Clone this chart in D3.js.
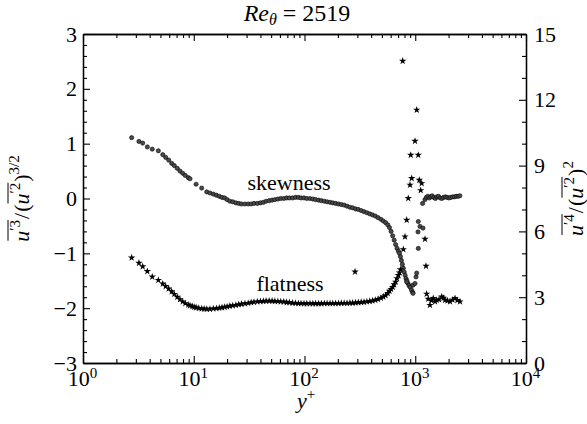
<!DOCTYPE html>
<html>
<head>
<meta charset="utf-8">
<script src="https://cdn.jsdelivr.net/npm/d3@7"></script>
<style>
body{margin:0;background:#fff;}
text{font-family:"Liberation Serif","DejaVu Serif",serif;}
</style>
</head>
<body>
<svg width="587" height="424"></svg>
<script>
// skewness  [y+, value]  (left axis)
const skewness = [
[2.75,1.11],[3.2,1.04],[3.46,1.01],[3.81,0.94],[4.22,0.90],[4.79,0.87],
[5.25,0.80],[5.58,0.75],[5.94,0.70],[6.32,0.64],[6.67,0.60],[7.10,0.55],[7.51,0.50],[7.95,0.46],[8.39,0.42],[8.93,0.38],[9.25,0.36],
[10.5,0.26],[11.8,0.19],[13.1,0.12],
[14,0.10],[15,0.08],[16,0.06],[17,0.04],[18,0.02],[19,0.01],[20,-0.02],[21.2,-0.05],[22.5,-0.06],[24,-0.08],[25.5,-0.09],[27,-0.10],
[29,-0.10],[31,-0.10],[33,-0.10],[35,-0.09],[37.5,-0.09],[40,-0.08],[42.5,-0.07],[45,-0.05],[48,-0.04],[51,-0.03],[54,-0.02],[57.5,-0.01],
[61,0.0],[65,0.0],[69,0.01],[73,0.01],[78,0.01],[83,0.02],[88,0.02],[93,0.01],[99,0.01],[105,0.0],[112,0.0],[119,-0.01],[126,-0.02],
[134,-0.03],[142,-0.04],[151,-0.05],[160,-0.06],[170,-0.07],[180,-0.08],[191,-0.09],[203,-0.10],[215,-0.11],[228,-0.12],[242,-0.14],
[257,-0.16],[272,-0.17],[289,-0.19],[306,-0.20],[325,-0.22],[345,-0.24],[366,-0.26],[388,-0.28],[411,-0.30],[436,-0.32],[462,-0.35],
[490,-0.38],[515,-0.41],[540,-0.44],[565,-0.48],[585,-0.53],[605,-0.60],[625,-0.68],[645,-0.76],[665,-0.84],[685,-0.91],[705,-0.96],
[720,-1.00],[735,-1.06],[750,-1.13],[765,-1.20],[780,-1.27],[795,-1.34],[810,-1.40],[825,-1.46],[840,-1.50],[860,-1.55],[880,-1.59],
[900,-1.62],[925,-1.67],[948,-1.71],
[837,-1.52],[955,-1.58],[955,-1.73],[995,-1.55],[1016,-1.43],[1031,-1.36],[1065,-0.91],[1059,-0.61],[1065,-0.42],[1104,-0.51],
[1175,-0.54],[1165,-0.09],
[1225,-0.02],[1260,0.02],[1300,0.04],[1340,0.01],[1380,0.03],[1420,0.05],[1470,0.02],[1520,0.0],[1570,0.03],[1620,0.04],[1680,0.01],
[1740,0.0],[1800,0.02],[1870,0.03],[1940,0.02],[2010,0.01],[2090,0.02],[2170,0.03],[2260,0.03],[2350,0.04],[2440,0.04],[2530,0.05]
];

// flatness  [y+, value]  (right axis)
const flatness = [
[2.75,4.80],[3.2,4.56],[3.46,4.40],[3.81,4.18],[4.22,3.93],[4.79,3.78],[5.25,3.61],[5.58,3.50],[5.94,3.39],[6.32,3.26],[6.67,3.14],
[7.10,3.01],[7.51,2.90],[7.95,2.80],[8.39,2.72],[8.93,2.65],[9.25,2.62],[9.7,2.58],[10.1,2.55],[10.5,2.53],[11.1,2.50],[11.8,2.48],
[12.4,2.47],[13.1,2.46],[14,2.46],[15,2.48],[16,2.49],[17,2.51],[18,2.53],[19,2.55],[20,2.57],[21.2,2.60],[22.5,2.62],[24,2.64],
[25.5,2.67],[27,2.69],[29,2.71],[31,2.73],[33,2.76],[35,2.78],[37.5,2.80],[40,2.81],[42.5,2.82],[45,2.83],[48,2.83],[51,2.83],
[54,2.82],[57.5,2.81],[61,2.80],[65,2.79],[69,2.77],[73,2.76],[78,2.74],[83,2.73],[88,2.72],[93,2.72],[99,2.71],[105,2.71],
[112,2.71],[119,2.71],[126,2.71],[134,2.71],[142,2.71],[151,2.72],[160,2.72],[170,2.72],[180,2.72],[191,2.72],[203,2.72],[215,2.73],
[228,2.73],[242,2.73],[257,2.74],[272,2.74],[289,2.75],[306,2.76],[325,2.77],[345,2.78],[366,2.80],[388,2.82],[411,2.84],[436,2.87],
[462,2.91],[490,2.96],[515,3.02],[540,3.08],[565,3.18],[585,3.28],[605,3.37],[625,3.46],[645,3.58],[665,3.70],[685,3.85],[705,4.00],
[720,4.12],[735,4.26],
[286,4.16],[770,13.77],[1031,11.54],[995,10.12],[910,9.48],[1065,9.48],[929,8.42],[1088,8.34],[897,8.12],[1143,8.19],[1120,7.87],
[865,7.51],[837,6.52],[808,5.76],[1225,5.65],[780,5.18],[1250,4.42],
[1268,3.15],[1310,2.92],[1358,2.64],[1400,2.85],[1455,2.95],[1510,2.80],[1563,2.87],[1640,2.90],[1734,3.02],[1800,2.96],[1857,2.87],
[1950,2.84],[2061,2.80],[2170,2.88],[2286,2.95],[2400,2.86],[2537,2.80]
];

const xTicks = [1,10,100,1000,10000];
const leftTicks = [-3,-2,-1,0,1,2,3];
const rightTicks = [0,3,6,9,12,15];
const reTheta = '2519';

const mLeft = 83, mRight = 526, mTop = 34, mBottom = 363;
const svg = d3.select('svg');

const x = d3.scaleLog().domain([1,1e4]).range([mLeft,mRight]);
const yL = d3.scaleLinear().domain([-3,3]).range([mBottom,mTop]);
const yR = d3.scaleLinear().domain([0,15]).range([mBottom,mTop]);

const xMinor = x.ticks().filter(d => xTicks.indexOf(d) < 0);
const leftMinor = yL.ticks(30).filter(d => Math.abs(d - Math.round(d)) > 1e-6);
const rightMinor = yR.ticks(15).filter(d => d % 3 !== 0);

function styleAxis(g){
  g.attr('font-family','Liberation Serif').attr('font-size',22);
  g.select('.domain').attr('stroke-width',1.3);
  g.selectAll('.tick line').attr('stroke-width',1.1);
  g.selectAll('.tick text').attr('fill','#000');
}

// bottom
svg.append('g').attr('transform',`translate(0,${mBottom})`)
  .call(d3.axisBottom(x).tickValues(xMinor).tickSize(-4).tickSizeOuter(0).tickFormat(''))
  .call(styleAxis);
const bx = svg.append('g').attr('transform',`translate(0,${mBottom})`)
  .call(d3.axisBottom(x).tickValues(xTicks).tickSize(-7).tickSizeOuter(0).tickPadding(7).tickFormat(''))
  .call(styleAxis);
bx.selectAll('.tick text').attr('dx',-1).each(function(d){
  const t = d3.select(this);
  t.append('tspan').text('10');
  t.append('tspan').attr('font-size',15).attr('dy',-8).text(Math.round(Math.log10(d)));
});

// top
svg.append('g').attr('transform',`translate(0,${mTop})`)
  .call(d3.axisTop(x).tickValues(xMinor).tickSize(-4).tickSizeOuter(0).tickFormat(''))
  .call(styleAxis);
svg.append('g').attr('transform',`translate(0,${mTop})`)
  .call(d3.axisTop(x).tickValues(xTicks).tickSize(-7).tickSizeOuter(0).tickFormat(''))
  .call(styleAxis);

// left
svg.append('g').attr('transform',`translate(${mLeft},0)`)
  .call(d3.axisLeft(yL).tickValues(leftMinor).tickSize(-4).tickSizeOuter(0).tickFormat(''))
  .call(styleAxis);
svg.append('g').attr('transform',`translate(${mLeft},0)`)
  .call(d3.axisLeft(yL).tickValues(leftTicks).tickSize(-7).tickSizeOuter(0).tickPadding(6).tickFormat(d3.format('d')))
  .call(styleAxis);

// right
svg.append('g').attr('transform',`translate(${mRight},0)`)
  .call(d3.axisRight(yR).tickValues(rightMinor).tickSize(-4).tickSizeOuter(0).tickFormat(''))
  .call(styleAxis);
svg.append('g').attr('transform',`translate(${mRight},0)`)
  .call(d3.axisRight(yR).tickValues(rightTicks).tickSize(-7).tickSizeOuter(0).tickPadding(8).tickFormat(d3.format('d')))
  .call(styleAxis);

// data
svg.append('g').selectAll('circle')
  .data(skewness)
  .join('circle')
  .attr('cx', d => x(d[0]))
  .attr('cy', d => yL(d[1]))
  .attr('r', 2.1)
  .attr('fill', '#4a4a4a')
  .attr('stroke', '#000')
  .attr('stroke-width', 0.6);

const star = d3.symbol(d3.symbolStar, 17);
svg.append('g').selectAll('path')
  .data(flatness)
  .join('path')
  .attr('d', star)
  .attr('transform', d => `translate(${x(d[0])},${yR(d[1])})`)
  .attr('fill', '#000');

// in-plot labels
svg.append('text').attr('x',289).attr('y',190).attr('text-anchor','middle')
  .attr('font-size',22).text('skewness');
svg.append('text').attr('x',290).attr('y',291).attr('text-anchor','middle')
  .attr('font-size',22).text('flatness');

// title
const ttl = svg.append('text').attr('x',297).attr('y',21).attr('text-anchor','middle').attr('font-size',24);
ttl.append('tspan').attr('font-style','italic').text('Re');
ttl.append('tspan').attr('font-style','italic').attr('font-size',16).attr('dy',4).text('θ');
ttl.append('tspan').attr('dy',-4).text(' = ' + reTheta);

// x label
const xl = svg.append('text').attr('x',306).attr('y',408).attr('text-anchor','middle').attr('font-size',22);
xl.append('tspan').attr('font-style','italic').text('y');
xl.append('tspan').attr('font-size',15).attr('dy',-9).text('+');

// axis labels with overlines, built piece by piece
function mathLabel(g, pieces, bars){
  const inner = g.append('g');
  let cx = 0;
  const spans = [];
  pieces.forEach(p => {
    const t = inner.append('text')
      .attr('x', cx).attr('y', p.dy || 0)
      .attr('font-size', p.size || 22)
      .attr('font-style', p.it ? 'italic' : null)
      .text(p.t);
    const w = t.node().getComputedTextLength();
    spans.push([cx, cx + w]);
    cx += w + (p.gap || 0);
  });
  bars.forEach(([a, b]) => {
    inner.append('line')
      .attr('x1', spans[a][0] + 1).attr('x2', spans[b][1])
      .attr('y1', -21).attr('y2', -21)
      .attr('stroke', '#000').attr('stroke-width', 1);
  });
  inner.attr('transform', `translate(${-cx/2},0)`);
}

mathLabel(
  svg.append('g').attr('transform','translate(29,198.5) rotate(-90)'),
  [{t:'u',it:1},{t:'′3',size:15,dy:-9,gap:1},{t:'/',gap:1},{t:'('},{t:'u',it:1},{t:'′2',size:15,dy:-9,gap:1},{t:')'},{t:'3/2',size:15,dy:-10}],
  [[0,1],[4,5]]
);
mathLabel(
  svg.append('g').attr('transform','translate(583,198.5) rotate(-90)'),
  [{t:'u',it:1},{t:'′4',size:15,dy:-9,gap:1},{t:'/',gap:1},{t:'('},{t:'u',it:1},{t:'′2',size:15,dy:-9,gap:1},{t:')'},{t:'2',size:15,dy:-10}],
  [[0,1],[4,5]]
);
</script>
</body>
</html>
